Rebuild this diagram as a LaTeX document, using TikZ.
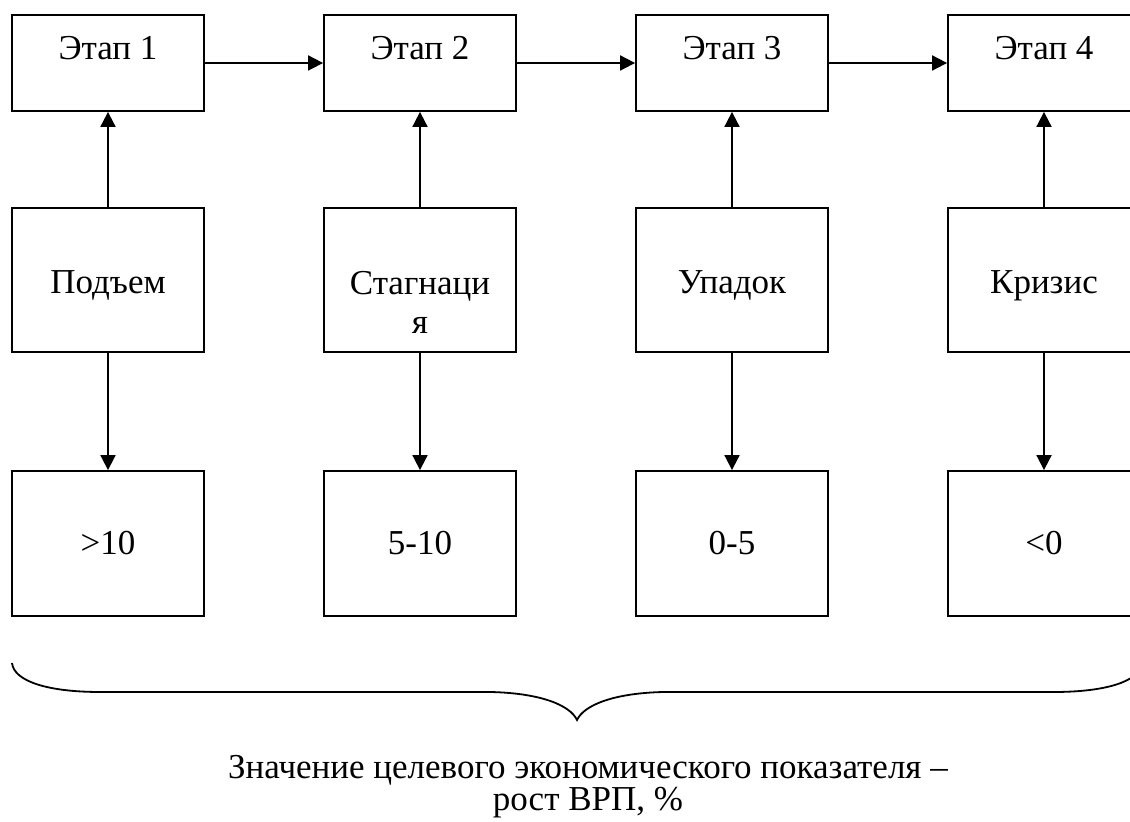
\documentclass[tikz,border=0pt]{standalone}
\usepackage{fontspec}
\setmainfont{Liberation Serif}
\usetikzlibrary{arrows.meta}

\tikzset{
  box/.style={draw, line width=0.9pt, minimum width=96pt, inner sep=0pt,
    font=\fontsize{17.5}{19.5}\selectfont},
  stagebox/.style={box, minimum height=48pt, text height=12pt, text depth=15pt},
  phasebox/.style={box, minimum height=72pt, text height=14pt, text depth=0pt},
  valuebox/.style={box, minimum height=72.5pt, text height=12pt, text depth=0.5pt},
  arr/.style={-{Triangle[length=7.5pt,width=7.5pt]}, line width=0.9pt},
}

\begin{document}
\begin{tikzpicture}[x=0.5pt,y=-0.5pt]
\clip (0,0) rectangle (1130,822);

% stages
\foreach \i/\x in {1/108,2/420,3/732,4/1044} {
\node[stagebox] (e\i) at (\x,63) {Этап \i};
}

% phases
\node[phasebox] (p1) at (108,280) {Подъем};
\node[phasebox, align=center, text height=54pt, text depth=0pt] (p2) at (420,280) {Стагнаци\\я};
\node[phasebox] (p3) at (732,280) {Упадок};
\node[phasebox] (p4) at (1044,280) {Кризис};

% values
\foreach \i/\x/\v in {1/108/>10,2/420/5-10,3/732/0-5,4/1044/<0} {
\node[valuebox] (v\i) at (\x,543.5) {\v};
}

\foreach \i/\j in {1/2,2/3,3/4} {
\draw[arr] (e\i.east) -- (e\j.west);
}
\foreach \i in {1,...,4} {
\draw[arr] (p\i.north) -- (e\i.south);
\draw[arr] (p\i.south) -- (v\i.north);
}

% brace
\coordinate (tip) at (577,720);
\draw[line width=0.9pt] (12,663) .. controls (14,682) and (50,692) .. (100,692) -- (490,692)
  .. controls (540,693) and (570,705) .. (tip)
  .. controls (584,705) and (614,693) .. (664,692) -- (1054,692)
  .. controls (1104,692) and (1140,682) .. (1142,663);

\node[align=center, font=\fontsize{17.5}{15}\selectfont] (cap) at (588,787)
  {Значение целевого экономического показателя –\\рост ВРП, \%};
\end{tikzpicture}
\end{document}
